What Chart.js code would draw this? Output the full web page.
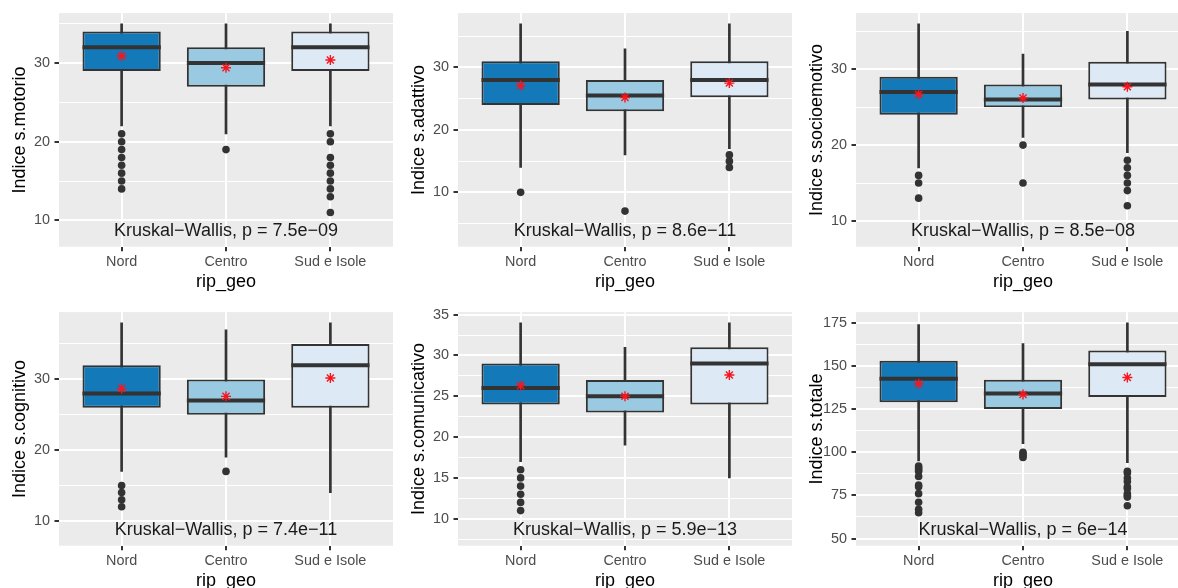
<!DOCTYPE html>
<html>
<head>
<meta charset="utf-8">
<script src="https://cdn.jsdelivr.net/npm/chart.js@4.4.1/dist/chart.umd.min.js"></script>
<style>
  html, body { margin: 0; padding: 0; background: #fff; width: 1178px; height: 588px; overflow: hidden; }
  .panel { position: absolute; }
</style>
</head>
<body>
<canvas class="panel" id="c1" width="393" height="295" style="left:0px;top:0px"></canvas>
<canvas class="panel" id="c2" width="393" height="295" style="left:399px;top:0px"></canvas>
<canvas class="panel" id="c3" width="393" height="295" style="left:797px;top:0px"></canvas>
<canvas class="panel" id="c4" width="393" height="295" style="left:0px;top:299px"></canvas>
<canvas class="panel" id="c5" width="393" height="295" style="left:399px;top:299px"></canvas>
<canvas class="panel" id="c6" width="393" height="295" style="left:797px;top:299px"></canvas>
<script>
var categories = ['Nord', 'Centro', 'Sud e Isole'];

// box stats per area: [lower whisker, Q1, median, Q3, upper whisker]
var motorioBoxes = [[22, 29, 32, 34, 35], [21, 27, 30, 32, 35], [22, 29, 32, 34, 35]];
var motorioMeans = [30.9, 29.4, 30.4];
var motorioOutliers = [[21, 20, 19, 18, 17, 16, 15, 14], [19], [21, 20, 18, 17, 16, 15, 14, 13, 11]];

var adattivoBoxes = [[14, 24, 28, 31, 37], [16, 23, 25.5, 28, 33], [17, 25.25, 28, 31, 37]];
var adattivoMeans = [27.1, 25.2, 27.5];
var adattivoOutliers = [[10], [7], [16, 15, 14]];

var socioBoxes = [[17, 24, 27, 29, 36], [21, 25, 26, 28, 32], [19, 26, 28, 31, 35]];
var socioMeans = [26.7, 26.2, 27.7];
var socioOutliers = [[16, 15, 13], [20, 15], [18, 17, 16, 15, 14, 12]];

var cognitivoBoxes = [[17, 26, 28, 32, 38], [19, 25, 27, 30, 37], [14, 26, 32, 35, 38]];
var cognitivoMeans = [28.7, 27.6, 30.2];
var cognitivoOutliers = [[15, 14, 13, 12], [17], []];

var comunicativoBoxes = [[17, 24, 26, 29, 34], [19, 23, 25, 27, 31], [15, 24, 29, 31, 34]];
var comunicativoMeans = [26.3, 25.0, 27.6];
var comunicativoOutliers = [[16, 15, 14, 13, 12, 11], [], []];

var totaleBoxes = [[95, 129, 142.5, 153, 174], [105, 125, 134, 142, 163], [94, 132, 151, 159, 175]];
var totaleMeans = [139.7, 133.4, 143.3];
var totaleOutliers = [[92, 91, 90, 89, 86, 81, 80, 76, 71, 67, 65], [100, 99, 98, 97], [89, 88, 85, 83, 80, 79, 76, 75, 74, 69]];

var pValues = ['7.5e\u221209', '8.6e\u221211', '8.5e\u221208', '7.4e\u221211', '5.9e\u221213', '6e\u221214'];

var fills = ['#1379B9', '#9ACAE1', '#DDEAF6'];
var ink = '#333333';

Chart.defaults.font.family = '"Liberation Sans", Arial, sans-serif';

// grey panel behind grid + the test label near the bottom
var panelBg = {
    id: 'panelBg',
    beforeDraw: function (chart) {
        var a = chart.chartArea, ctx = chart.ctx;
        ctx.save();
        ctx.fillStyle = '#EBEBEB';
        ctx.fillRect(a.left, a.top, a.right - a.left, a.bottom - a.top);
        ctx.restore();
    },
    afterDatasetsDraw: function (chart, args, opts) {
        var ctx = chart.ctx;
        ctx.save();
        ctx.font = '18px "Liberation Sans", Arial, sans-serif';
        ctx.fillStyle = '#1A1A1A';
        ctx.textAlign = 'center';
        ctx.textBaseline = 'alphabetic';
        ctx.fillText('Kruskal\u2212Wallis, p = ' + opts.p, chart.scales.x.getPixelForValue(2), chart.chartArea.bottom - 10.7);
        ctx.restore();
    }
};

function boxPanel(id, yTitle, boxes, means, outliers, p, yMin, yMax, major) {
    var half = major / 2;
    var isMajor = function (v) { return Math.abs(v / major - Math.round(v / major)) < 1e-6; };
    var halfBox = function (ctx) {
        var s = ctx.chart.scales.x;
        return s.getPixelForValue(1.375) - s.getPixelForValue(1);
    };

    var outlierPts = [];
    outliers.forEach(function (list, i) {
        list.forEach(function (v) { outlierPts.push({ x: i + 1, y: v }); });
    });

    new Chart(document.getElementById(id), {
        type: 'bar',
        data: {
            datasets: [
                { type: 'bar', order: 4, grouped: false, barThickness: 2, backgroundColor: ink, borderWidth: 0,
                  data: boxes.map(function (b, i) { return { x: i + 1, y: [b[0], b[4]] }; }) },
                { type: 'bar', order: 3, grouped: false, barPercentage: 0.75, categoryPercentage: 1,
                  backgroundColor: fills, borderColor: ink, borderWidth: 2, borderSkipped: false,
                  data: boxes.map(function (b, i) { return { x: i + 1, y: [b[1], b[3]] }; }) },
                { type: 'scatter', order: 2, pointStyle: 'line', pointRadius: halfBox, borderColor: ink, borderWidth: 4,
                  data: boxes.map(function (b, i) { return { x: i + 1, y: b[2] }; }) },
                { type: 'scatter', order: 1, pointRadius: 3.8, backgroundColor: ink, borderWidth: 0, data: outlierPts },
                { type: 'scatter', order: 0, pointStyle: 'star', pointRadius: 5, borderColor: '#F8161E', borderWidth: 1.4,
                  data: means.map(function (m, i) { return { x: i + 1, y: m }; }) }
            ]
        },
        options: {
            responsive: false, animation: false,
            layout: { autoPadding: false, padding: { top: 10, left: 0, right: 0, bottom: 0 } },
            plugins: { legend: { display: false }, tooltip: { enabled: false }, panelBg: { p: p } },
            scales: {
                x: {
                    type: 'linear', min: 0.4, max: 3.6, offset: false,
                    afterBuildTicks: function (s) { s.ticks = [1, 2, 3].map(function (v) { return { value: v }; }); },
                    afterFit: function (s) { s.height = 48.3; },
                    ticks: { autoSkip: false, maxRotation: 0, color: '#4D4D4D', font: { size: 14.4 }, padding: 2,
                             callback: function (v) { return categories[v - 1]; } },
                    grid: { offset: false, color: '#FFFFFF', lineWidth: 2, tickLength: 4.5, tickColor: ink },
                    border: { display: false },
                    title: { display: true, text: 'rip_geo', color: '#000', font: { size: 18 }, padding: { top: 0, bottom: 2.5 } }
                },
                y: {
                    min: yMin, max: yMax,
                    afterBuildTicks: function (s) {
                        var t = [];
                        for (var v = Math.ceil(yMin / half) * half; v <= yMax; v += half) t.push({ value: v });
                        s.ticks = t;
                    },
                    afterFit: function (s) { s.width = 59; },
                    ticks: { autoSkip: false, color: '#4D4D4D', font: { size: 14.4 }, padding: 4.5,
                             callback: function (v) { return isMajor(v) ? v : ''; } },
                    grid: {
                        color: '#FFFFFF', tickLength: 4.5,
                        lineWidth: function (c) { return c.tick && isMajor(c.tick.value) ? 2 : 1; },
                        tickColor: function (c) { return c.tick && isMajor(c.tick.value) ? ink : 'rgba(0,0,0,0)'; }
                    },
                    border: { display: false },
                    title: { display: true, text: yTitle, color: '#000', font: { size: 18 }, padding: { top: 9.2, bottom: 0 } }
                }
            }
        },
        plugins: [panelBg]
    });
}

boxPanel('c1', 'Indice s.motorio', motorioBoxes, motorioMeans, motorioOutliers, pValues[0], 6.65, 36.35, 10);
boxPanel('c2', 'Indice s.adattivo', adattivoBoxes, adattivoMeans, adattivoOutliers, pValues[1], 1.3, 38.7, 10);
boxPanel('c3', 'Indice s.socioemotivo', socioBoxes, socioMeans, socioOutliers, pValues[2], 6.6, 37.4, 10);
boxPanel('c4', 'Indice s.cognitivo', cognitivoBoxes, cognitivoMeans, cognitivoOutliers, pValues[3], 6.5, 39.5, 10);
boxPanel('c5', 'Indice s.comunicativo', comunicativoBoxes, comunicativoMeans, comunicativoOutliers, pValues[4], 6.7, 35.3, 5);
boxPanel('c6', 'Indice s.totale', totaleBoxes, totaleMeans, totaleOutliers, pValues[5], 45.85, 181.15, 25);
</script>
</body>
</html>
